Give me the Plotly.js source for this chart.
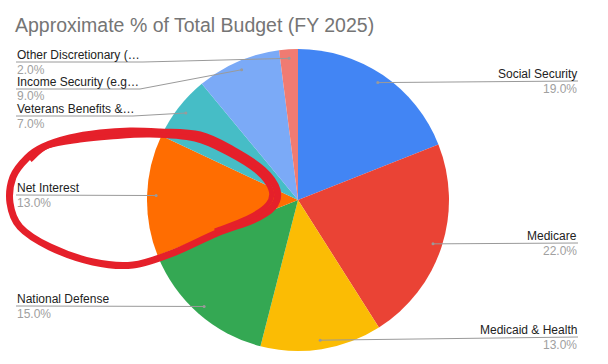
<!DOCTYPE html>
<html>
<head>
<meta charset="utf-8">
<script src="https://cdn.plot.ly/plotly-3.0.1.min.js"></script>
<style>html,body{margin:0;padding:0;background:#fff;}#chart{width:608px;height:364px;}</style>
</head>
<body>
<div id="chart"></div>
<script>
// ---- data ----
const categories = ['Social Security','Medicare','Medicaid & Health','National Defense','Net Interest','Veterans Benefits & Services','Income Security (e.g., SNAP)','Other Discretionary (education, etc.)'];
const shownLabels = ['Social Security','Medicare','Medicaid & Health','National Defense','Net Interest','Veterans Benefits &…','Income Security (e.g…','Other Discretionary (…'];
const values = [19,22,13,15,13,7,9,2];
const colors = ['#4285F4','#EA4335','#FBBC04','#34A853','#FF6D01','#46BDC6','#7BAAF7','#F07B72'];

// ---- layout constants (pixels) ----
const W=608,H=364;
const cx=298, cy=200, R=151, dotFrac=0.94;
const labelSide = ['right','right','right','left','left','left','left','left'];
const labelLineY = [81,243,337,306,195,116,89,62];
const labelKnee  = [null,null,null,null,null,133,140,143];
const leftX=16, rightX=578;
const FONT='"Liberation Sans", Arial, sans-serif';

const px = x => x/W;
const py = y => 1 - y/H;

const total = values.reduce((a,b)=>a+b,0);
const shapes=[], annotations=[];
let cum=0;
values.forEach((v,i)=>{
  const mid=(cum+v/2)/total*2*Math.PI; cum+=v;
  const dx=cx+R*dotFrac*Math.sin(mid), dy=cy-R*dotFrac*Math.cos(mid);
  const uy=labelLineY[i];
  let path;
  if(labelSide[i]==='right'){
    path=`M${px(dx)},${py(dy)} L${px(rightX)},${py(uy)}`;
  } else if(labelKnee[i]!==null){
    path=`M${px(leftX)},${py(uy)} L${px(labelKnee[i])},${py(uy)} L${px(dx)},${py(dy)}`;
  } else {
    path=`M${px(leftX)},${py(uy)} L${px(dx)},${py(dy)}`;
  }
  shapes.push({type:'path',xref:'paper',yref:'paper',path:path,line:{color:'#9a9a9a',width:1},layer:'above'});
  shapes.push({type:'circle',xref:'paper',yref:'paper',x0:px(dx-1.5),x1:px(dx+1.5),y0:py(dy+1.5),y1:py(dy-1.5),fillcolor:'#9a9a9a',line:{width:0},layer:'above'});
  const side=labelSide[i];
  const ax = side==='right'? px(rightX): px(leftX);
  annotations.push({xref:'paper',yref:'paper',x:ax,y:py(uy-7),xanchor:side,yanchor:'middle',showarrow:false,borderpad:0,
    text:shownLabels[i],font:{family:FONT,size:12,color:'#222222'}});
  annotations.push({xref:'paper',yref:'paper',x:ax,y:py(uy+7.5),xanchor:side,yanchor:'middle',showarrow:false,borderpad:0,
    text:(v/total*100).toFixed(1)+'%',font:{family:FONT,size:12,color:'#a0a0a0'}});
});

// ---- hand-drawn red loop around Net Interest ----
function smoothPath(pts, closed){
  const n=pts.length; let d=`M${px(pts[0][0])},${py(pts[0][1])}`;
  const get=k=> closed? pts[(k+n)%n] : pts[Math.max(0,Math.min(n-1,k))];
  const segs = closed? n : n-1;
  for(let k=0;k<segs;k++){
    const p0=get(k-1),p1=get(k),p2=get(k+1),p3=get(k+2);
    const c1=[p1[0]+(p2[0]-p0[0])/6,p1[1]+(p2[1]-p0[1])/6];
    const c2=[p2[0]-(p3[0]-p1[0])/6,p2[1]-(p3[1]-p1[1])/6];
    d+=` C${px(c1[0])},${py(c1[1])} ${px(c2[0])},${py(c2[1])} ${px(p2[0])},${py(p2[1])}`;
  }
  return closed? d+' Z': d;
}
const loop1=[[43,147],[70,138],[100,133],[130,131],[160,132],[200,135],[233,150],[263,170],[277,190],[273,207],[253,220],[217,233],[173,253],[133,265],[93,262],[50,247],[20,227],[10,203],[13,177],[27,158]];
const loop2=[[30,160],[48,146],[80,140],[110,137],[150,135],[195,139],[228,153],[258,172],[271,190],[268,204],[248,218],[215,231]];
shapes.push({type:'path',xref:'paper',yref:'paper',path:smoothPath(loop1,true),line:{color:'#E5202A',width:7},layer:'above'});
shapes.push({type:'path',xref:'paper',yref:'paper',path:smoothPath(loop2,false),line:{color:'#E5202A',width:5},layer:'above'});

const trace={type:'pie',values:values,labels:categories,sort:false,direction:'clockwise',rotation:0,
  textinfo:'none',hoverinfo:'label+percent',showlegend:false,
  marker:{colors:colors,line:{width:0}},
  domain:{x:[px(cx-R),px(cx+R)],y:[py(cy+R),py(cy-R)]}};

const layout={width:W,height:H,margin:{l:0,r:0,t:0,b:0},paper_bgcolor:'#fff',plot_bgcolor:'#fff',
  title:{text:'Approximate % of Total Budget (FY 2025)',x:px(15),xanchor:'left',xref:'paper',y:py(25),yanchor:'middle',yref:'paper',
    font:{family:FONT,size:19.5,color:'#757575'}},
  shapes:shapes,annotations:annotations,showlegend:false};

Plotly.newPlot('chart',[trace],layout,{displayModeBar:false,staticPlot:true});
</script>
</body>
</html>
